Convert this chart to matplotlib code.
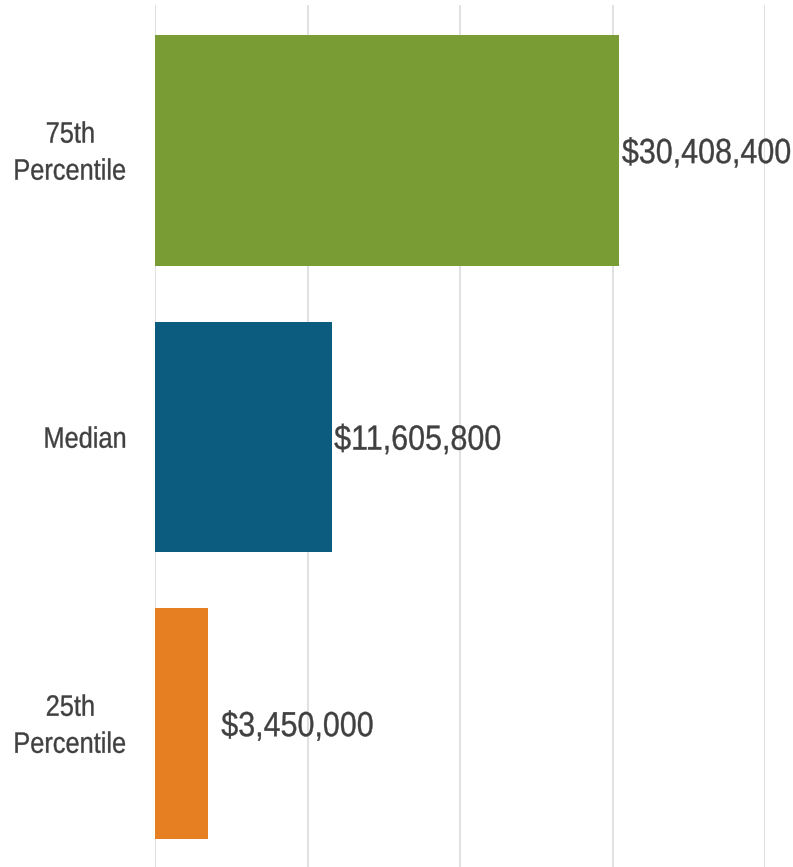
import matplotlib
matplotlib.use("Agg")
import matplotlib.pyplot as plt
from matplotlib.ticker import MultipleLocator
from matplotlib.textpath import TextPath
from matplotlib.patches import PathPatch
from matplotlib.font_manager import FontProperties
from matplotlib.transforms import Affine2D, IdentityTransform

categories = ["25th\nPercentile", "Median", "75th\nPercentile"]
values = [3450000, 11605800, 30408400]
value_labels = ["$3,450,000", "$11,605,800", "$30,408,400"]
colors = ["#E67E22", "#0B5C7E", "#7A9C35"]

text_color = "#404040"
font = FontProperties(family="Liberation Sans")
CAP = 0.716  # cap height as a fraction of the em size


def narrow_text(fig, s, x, y, size_px, sx, ha="left"):
    """Draw horizontally condensed text; (x, y) in pixels, y = vertical centre of caps."""
    tp = TextPath((0, 0), s, size=size_px, prop=font)
    bb = tp.get_extents()
    w = (bb.x1 - bb.x0) * sx
    if ha == "left":
        left = x
    elif ha == "right":
        left = x - w
    else:
        left = x - w / 2
    tr = Affine2D().scale(sx, 1).translate(left - bb.x0 * sx, y - CAP * size_px / 2)
    fig.add_artist(PathPatch(tr.transform_path(tp), transform=IdentityTransform(),
                             facecolor=text_color, edgecolor=text_color, linewidth=0.25))
    return w


def ink_width(s, size_px, sx):
    bb = TextPath((0, 0), s, size=size_px, prop=font).get_extents()
    return (bb.x1 - bb.x0) * sx


fig = plt.figure(figsize=(7.93, 8.67), dpi=100)
ax = fig.add_axes([155 / 793, 0.0, (765 - 155) / 793, 1 - 5 / 867])

pos = list(range(len(categories)))
bars = ax.barh(pos, values, height=0.805, color=colors, zorder=2)

ax.set_xlim(0, 40_000_000)
ax.set_ylim(-0.5, 2.508)
ax.xaxis.set_major_locator(MultipleLocator(10_000_000))
ax.grid(axis="x", color="#dcdcdc", linewidth=1.2, zorder=0)
ax.set_xticklabels([])
ax.set_yticks(pos)
ax.set_yticklabels([])
ax.tick_params(axis="both", length=0)
for s in ax.spines.values():
    s.set_visible(False)

# value labels at the end of each bar
val_size, val_sx = 35, 0.87
offsets = [14, 2.5, 3.5]
for bar, lab, off in zip(bars, value_labels, offsets):
    x, y = ax.transData.transform((bar.get_width(), bar.get_y() + bar.get_height() / 2))
    narrow_text(fig, lab, x + off, y, val_size, val_sx, ha="left")

# category labels, centred lines in a right-aligned block
cat_size, cat_sx = 29.5, 0.86
line_gap = 37
right_edge = 125
for p, cat in zip(pos, categories):
    _, yc = ax.transData.transform((0, p))
    lines = cat.split("\n")
    block_w = max(ink_width(l, cat_size, cat_sx) for l in lines)
    cx = right_edge - block_w / 2
    n = len(lines)
    for i, line in enumerate(lines):
        ly = yc + (n - 1) * line_gap / 2 - i * line_gap
        narrow_text(fig, line, cx, ly, cat_size, cat_sx, ha="center")

fig.savefig("out.png", dpi=100)
